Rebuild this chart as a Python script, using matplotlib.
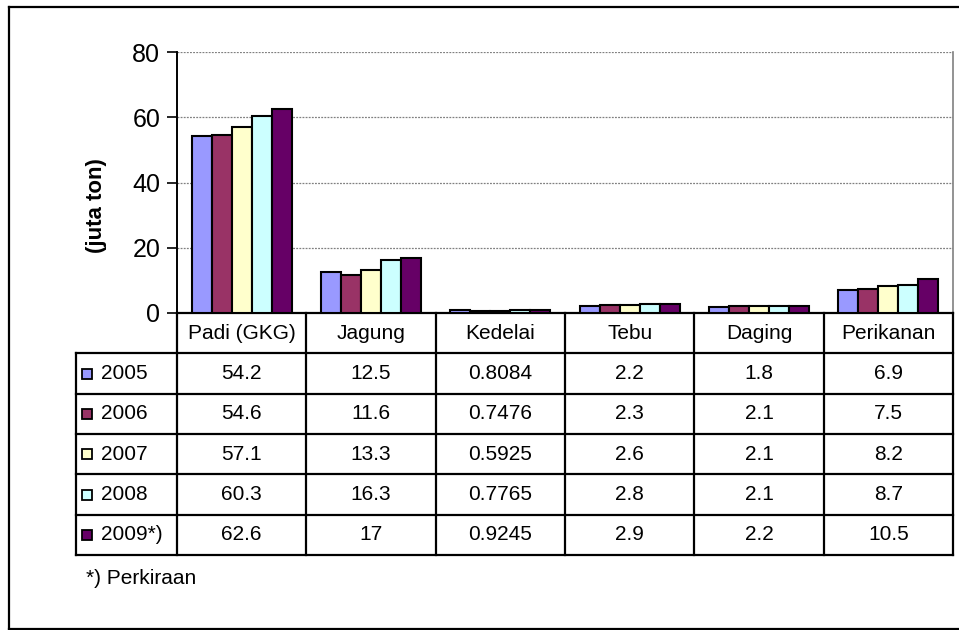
import numpy as np
import matplotlib.pyplot as plt
from matplotlib.lines import Line2D

plt.rcParams["font.family"] = ["Liberation Sans", "DejaVu Sans"]

# data
kategori = ["Padi (GKG)", "Jagung", "Kedelai", "Tebu", "Daging", "Perikanan"]
tahun = ["2005", "2006", "2007", "2008", "2009*)"]
v2005 = [54.2, 12.5, 0.8084, 2.2, 1.8, 6.9]
v2006 = [54.6, 11.6, 0.7476, 2.3, 2.1, 7.5]
v2007 = [57.1, 13.3, 0.5925, 2.6, 2.1, 8.2]
v2008 = [60.3, 16.3, 0.7765, 2.8, 2.1, 8.7]
v2009 = [62.6, 17, 0.9245, 2.9, 2.2, 10.5]
label_tabel = [["54.2", "12.5", "0.8084", "2.2", "1.8", "6.9"],
               ["54.6", "11.6", "0.7476", "2.3", "2.1", "7.5"],
               ["57.1", "13.3", "0.5925", "2.6", "2.1", "8.2"],
               ["60.3", "16.3", "0.7765", "2.8", "2.1", "8.7"],
               ["62.6", "17", "0.9245", "2.9", "2.2", "10.5"]]
seri = [v2005, v2006, v2007, v2008, v2009]
warna = ["#9999FF", "#993366", "#FFFFCC", "#CCFFFF", "#660066"]

W, H = 959, 630
fig = plt.figure(figsize=(W / 100, H / 100), dpi=100)


def kotak(x0, y0, x1, y1):
    # posisi dalam piksel (dari kiri atas)
    return [x0 / W, 1 - y1 / H, (x1 - x0) / W, (y1 - y0) / H]


# bingkai luar
bingkai = dict(color="black", lw=1.6, transform=fig.transFigure)
fig.add_artist(Line2D([9 / W, 1.01], [1 - 7 / H, 1 - 7 / H], **bingkai))
fig.add_artist(Line2D([9 / W, 1.01], [1 - 629 / H, 1 - 629 / H], **bingkai))
fig.add_artist(Line2D([9 / W, 9 / W], [1 - 7 / H, 1 - 629 / H], **bingkai))

# grafik batang
ax = fig.add_axes(kotak(177, 52, 953, 313))
x = np.arange(len(kategori))
lebar = 0.155
for i, (vals, c) in enumerate(zip(seri, warna)):
    ax.bar(x + (i - 2) * lebar, vals, lebar, color=c, edgecolor="black",
           linewidth=1.5, zorder=3)

ax.set_xlim(-0.5, 5.5)
ax.set_ylim(0, 80)
ax.set_yticks([0, 20, 40, 60, 80])
ax.set_xticks([])
ax.tick_params(axis="y", length=7, width=1.2, labelsize=18, pad=5)
ax.yaxis.grid(True, color="#808080", linestyle=(0, (1.5, 1)), linewidth=0.9, zorder=0)
ax.spines["top"].set_visible(False)
ax.spines["right"].set_color("#808080")
ax.spines["right"].set_linewidth(1.2)
ax.spines["left"].set_linewidth(1.4)
ax.spines["bottom"].set_linewidth(1.6)
ax.set_ylabel("(juta ton)", fontsize=16, fontweight="bold")
ax.yaxis.set_label_coords(-0.09, 0.41)

# tabel data
lab_w = 101 / 129.33
axt = fig.add_axes(kotak(76, 313, 953, 555))
axt.set_xlim(-0.5 - lab_w, 5.5)
axt.set_ylim(6, 0)
axt.axis("off")
garis = dict(color="black", lw=1.6, clip_on=False)
kiri = -0.5 - lab_w
for r in range(1, 7):
    axt.plot([kiri, 5.5], [r, r], **garis)
axt.plot([kiri, kiri], [1, 6], **garis)
for k in range(7):
    axt.plot([k - 0.5, k - 0.5], [0, 6], **garis)

fs = 15
for j, nama in enumerate(kategori):
    axt.text(j, 0.5, nama, ha="center", va="center", fontsize=fs)
for i, t in enumerate(tahun):
    axt.plot(kiri + 0.085, i + 1.5, marker="s", markersize=7.5, color=warna[i],
             mec="black", mew=1.3, clip_on=False)
    axt.text(kiri + 25 / 129.33, i + 1.5, t, ha="left", va="center", fontsize=fs)
    for j in range(len(kategori)):
        axt.text(j, i + 1.5, label_tabel[i][j], ha="center", va="center", fontsize=fs)

fig.text(86 / W, 1 - 579 / H, "*) Perkiraan", ha="left", va="center", fontsize=fs)

fig.savefig("out.png", dpi=100)
